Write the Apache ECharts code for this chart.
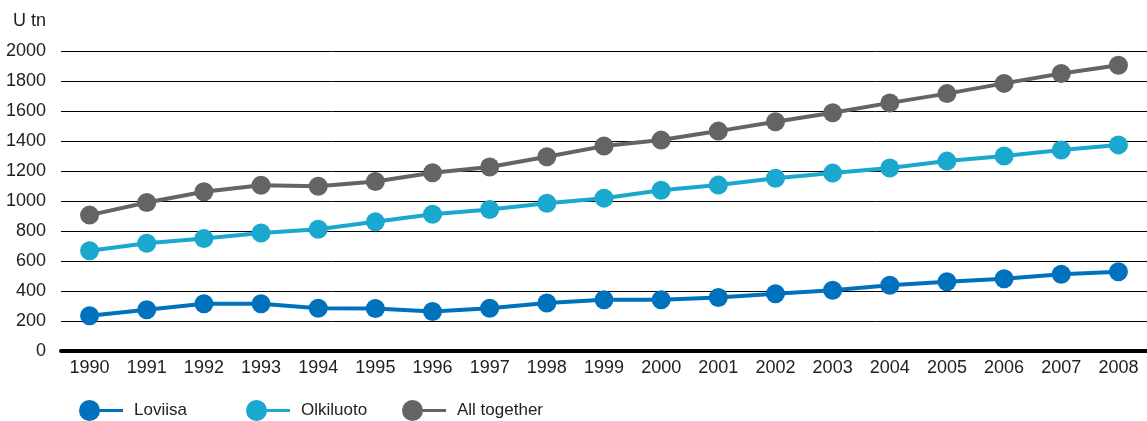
<!DOCTYPE html>
<html>
<head>
<meta charset="utf-8">
<style>
  html, body { margin: 0; padding: 0; background: #fff; }
  #chart { width: 1147px; height: 421px; }
</style>
<script src="https://cdn.jsdelivr.net/npm/echarts@6/dist/echarts.min.js"></script>
</head>
<body>
<div id="chart"></div>
<script>
// Spent fuel accumulated by plant, uranium tonnes per year
const years = ['1990','1991','1992','1993','1994','1995','1996','1997','1998','1999',
               '2000','2001','2002','2003','2004','2005','2006','2007','2008'];
const loviisa = [235, 275, 315, 315, 285, 283, 263, 285, 320, 342,
                 342, 357, 382, 405, 438, 462, 482, 512, 528];
const olkiluoto = [668, 718, 750, 787, 812, 861, 912, 943, 985, 1019,
                   1072, 1106, 1152, 1186, 1220, 1266, 1300, 1340, 1374];
const allTogether = [906, 990, 1062, 1105, 1098, 1130, 1188, 1227, 1295, 1366,
                     1406, 1466, 1528, 1588, 1654, 1716, 1784, 1850, 1905];
const yTicks = [0, 200, 400, 600, 800, 1000, 1200, 1400, 1600, 1800, 2000];

const FONT = 'Liberation Sans';
const TEXT = '#222';
const C_LOV = '#0071bc';
const C_OLK = '#1aa8cf';
const C_ALL = '#636466';

// legend key: dot followed by a short line segment
const keyIcon = 'path://M0,10.5 A10.5,10.5 0 1,1 21,10.5 A10.5,10.5 0 1,1 0,10.5 Z M10,9 L44,9 L44,12 L10,12 Z';

function legendAt(name, left) {
  return {
    data: [name],
    left: left,
    top: 395,
    icon: keyIcon,
    itemWidth: 44,
    itemHeight: 21,
    selectedMode: false,
    textStyle: { fontFamily: FONT, fontSize: 17, color: TEXT, padding: [3, 0, 0, 6] }
  };
}

function lineSeries(name, data, color) {
  return {
    name: name,
    type: 'line',
    data: data,
    symbol: 'circle',
    symbolSize: 19,
    showSymbol: true,
    lineStyle: { color: color, width: 4 },
    itemStyle: { color: color },
    animation: false
  };
}

const chart = echarts.init(document.getElementById('chart'));
chart.setOption({
  backgroundColor: '#fff',
  animation: false,
  grid: { left: 61, right: -7, top: 51, bottom: 70 },
  legend: [
    legendAt('Loviisa', 74),
    legendAt('Olkiluoto', 241),
    legendAt('All together', 397)
  ],
  xAxis: {
    type: 'category',
    data: years,
    boundaryGap: true,
    axisLine: { show: true, lineStyle: { color: '#000', width: 4 } },
    axisTick: { show: false },
    axisLabel: { fontFamily: FONT, fontSize: 18, color: TEXT, margin: 8 }
  },
  yAxis: {
    type: 'value',
    min: yTicks[0],
    max: yTicks[yTicks.length - 1],
    interval: 200,
    name: 'U tn',
    nameLocation: 'end',
    nameGap: 21,
    nameTextStyle: { fontFamily: FONT, fontSize: 18, color: TEXT, align: 'right', padding: [0, 15, 0, 0] },
    axisLine: { show: false },
    axisTick: { show: false },
    axisLabel: {
      fontFamily: FONT, fontSize: 18, color: TEXT, margin: 15,
      formatter: function (v) { return String(v); }
    },
    splitLine: { show: true, lineStyle: { color: '#000', width: 1 } }
  },
  series: [
    lineSeries('Loviisa', loviisa, C_LOV),
    lineSeries('Olkiluoto', olkiluoto, C_OLK),
    lineSeries('All together', allTogether, C_ALL)
  ]
});
</script>
</body>
</html>
